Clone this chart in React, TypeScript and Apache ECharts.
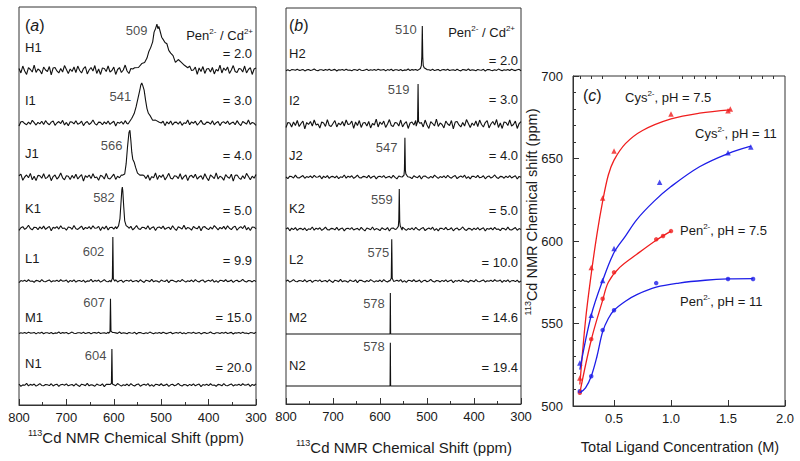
import React, { useEffect, useRef } from "react";
import * as echarts from "echarts";

// ---------------- DATA ----------------
// Panel (a): Pen2-/Cd2+ titration, spectra set 1
const ROWS_A = ["H1", "I1", "J1", "K1", "L1", "M1", "N1"];
const RATIO_A = ["2.0", "3.0", "4.0", "5.0", "9.9", "15.0", "20.0"];
const PEAK_PPM_A = [509, 541, 566, 582, 602, 607, 604];
const PEAK_HEIGHT_A = [1.02, 0.89, 1.04, 0.91, 0.98, 0.76, 0.8];
const NOISE_LEVEL_A = [0.11, 0.065, 0.09, 0.06, 0.035, 0.022, 0.035];
const SHAPE_A: number[][][] = [
  [[556, 0.03], [548, 0.08], [541, 0.14], [535, 0.2], [530, 0.28], [526, 0.36], [522, 0.48], [518, 0.62], [515, 0.76], [512, 0.9], [509, 1.0], [507, 0.9], [505, 0.95], [502, 0.84], [499, 0.76], [496, 0.68], [492, 0.6], [488, 0.52], [484, 0.44], [480, 0.38], [475, 0.3], [470, 0.23], [464, 0.17], [458, 0.12], [451, 0.07], [444, 0.03]],
  [[570, 0.02], [562, 0.08], [557, 0.2], [553, 0.38], [549, 0.6], [545, 0.82], [543, 0.95], [541, 1.0], [539, 0.94], [536, 0.78], [533, 0.58], [530, 0.4], [527, 0.26], [523, 0.16], [518, 0.09], [512, 0.05], [504, 0.02]],
  [[582, 0.02], [577, 0.1], [574, 0.3], [571, 0.65], [568, 0.95], [566, 1.0], [564, 0.82], [562, 0.52], [560, 0.34], [557, 0.28], [554, 0.2], [550, 0.12], [545, 0.06], [538, 0.02]],
  [[594, 0.02], [590, 0.08], [587, 0.25], [585, 0.6], [583, 0.94], [582, 1.0], [581, 0.9], [579, 0.5], [577, 0.2], [574, 0.07], [570, 0.02]],
  [[606, 0], [603, 0.06], [602, 1.0], [601, 0.06], [598, 0]],
  [[611, 0], [608, 0.04], [607, 1.0], [606, 0.04], [603, 0]],
  [[608, 0], [605, 0.05], [604, 1.0], [603, 0.05], [600, 0]],
];

// Panel (b): spectra set 2
const ROWS_B = ["H2", "I2", "J2", "K2", "L2", "M2", "N2"];
const RATIO_B = ["2.0", "3.0", "4.0", "5.0", "10.0", "14.6", "19.4"];
const PEAK_PPM_B = [510, 519, 547, 559, 575, 578, 578];
const PEAK_HEIGHT_B = [0.98, 0.89, 0.87, 0.89, 0.93, 0.91, 0.96];
const NOISE_LEVEL_B = [0.022, 0.11, 0.045, 0.045, 0.035, 0, 0];
const SHAPE_B: number[][][] = [
  [[520, 0], [514, 0.04], [512, 0.1], [511, 0.3], [510, 1.0], [509, 0.3], [508, 0.1], [506, 0.04], [500, 0]],
  [[523, 0], [520, 0.1], [519, 1.0], [518, 0.1], [515, 0]],
  [[553, 0], [549, 0.06], [548, 0.2], [547, 1.0], [546, 0.2], [545, 0.06], [541, 0]],
  [[565, 0], [561, 0.06], [560, 0.2], [559, 1.0], [558, 0.2], [557, 0.06], [553, 0]],
  [[579, 0], [576, 0.06], [575, 1.0], [574, 0.06], [571, 0]],
  [[581, 0], [578.6, 0], [578, 1.0], [577.4, 0], [575, 0]],
  [[581, 0], [578.6, 0], [578, 1.0], [577.4, 0], [575, 0]],
];

// baseline noise samples (hand-typed, shared by the spectra)
const NOISE = [
  0.3, -0.6, 0.8, -0.2, -0.9, 0.5, 0.1, -0.4, 1.0, -0.5,
  0.2, -0.1, -0.8, 0.6, 0.0, -0.3, 0.7, -1.0, 0.4, 0.5,
  -0.2, -0.6, 0.3, -0.4, 0.9, 0.1, -0.7, 0.2, -0.3, 0.6,
  -0.5, 0.8, -0.1, -0.6, 0.3, 0.7, -0.8, 0.0, 0.5, -0.2,
  0.9, -0.7, 0.2, -0.9, 0.4, 0.3, -0.3, 0.8, -0.4, -0.1,
  0.6, -0.9, 0.1, 0.5, -0.5, 0.0, 1.0, -0.2, -0.7, 0.3,
  0.2, -0.6, 0.4, -0.3, 0.7, -0.5, 0.1, 0.6, -1.0, 0.3,
  -0.1, 0.5, -0.4, 0.8, -0.2, 0.0, -0.8, 0.4, 0.2, -0.5,
  0.9, -0.3, -0.5, 0.1, 0.7, -0.6, 0.2, -0.2, 0.5, -0.4,
  0.8, -0.1, 0.0, 0.6, -0.9, 0.4, -0.3, 0.7, -0.7, 0.2,
  0.3, -0.4, 0.5, -0.8, 0.1, -0.2, 1.0, -0.6, 0.4, -0.1,
  0.6, -0.7, 0.0, 0.9, -0.3, -0.5, 0.3, 0.2, -0.4, 0.8,
  -0.6, 0.1, 0.5, -0.9, 0.2, 0.4, -0.2, 0.7, -0.5, 0.0,
];

// Panel (c): 113Cd shift vs total ligand concentration
const CYS75_X = [0.2, 0.3, 0.4, 0.5, 1.0, 1.5, 1.52];
const CYS75_Y = [517, 584, 626, 654.5, 677, 679, 680];
const CYS11_X = [0.2, 0.3, 0.4, 0.5, 0.9, 1.5, 1.7];
const CYS11_Y = [526, 555, 576, 595.5, 635.6, 653.5, 657];
const PEN75_X = [0.2, 0.3, 0.4, 0.5, 0.87, 0.93, 1.0];
const PEN75_Y = [508, 540.5, 565, 581, 601, 603, 606];
const PEN11_X = [0.2, 0.3, 0.4, 0.5, 0.87, 1.5, 1.72];
const PEN11_Y = [509, 518, 546, 558, 574.5, 577, 577];

// fitted curves
const CYS75_FIT_X = [0.2, 0.25, 0.3, 0.35, 0.4, 0.45, 0.5, 0.6, 0.75, 1.0, 1.25, 1.52];
const CYS75_FIT_Y = [513, 552, 580, 604, 624, 640, 649, 659, 667, 674, 677.5, 679.5];
const CYS11_FIT_X = [0.2, 0.3, 0.4, 0.5, 0.6, 0.7, 0.85, 1.0, 1.25, 1.5, 1.7];
const CYS11_FIT_Y = [522, 555, 576, 593, 603, 613, 624, 633, 645, 653, 657.5];
const PEN75_FIT_X = [0.2, 0.3, 0.4, 0.45, 0.55, 0.7, 0.87, 1.0];
const PEN75_FIT_Y = [508, 540, 564, 575, 584, 592, 600.5, 606];
const PEN11_FIT_X = [0.2, 0.25, 0.3, 0.35, 0.4, 0.45, 0.5, 0.6, 0.7, 0.87, 1.07, 1.3, 1.5, 1.72];
const PEN11_FIT_Y = [508, 511, 518, 530, 545, 553, 558, 563.5, 567.5, 572, 574.5, 576.2, 577, 577.2];

const X_TICKS_C = [0.5, 1.0, 1.5, 2.0];
const X_MINOR_TICKS_C = [0.2, 0.3, 0.4, 0.6, 0.7, 0.8, 0.9, 1.1, 1.2, 1.3, 1.4, 1.6, 1.7, 1.8, 1.9];

// ---------------- LAYOUT ----------------
const FONT = '"Liberation Sans", Arial, Helvetica, sans-serif';
const TXT = "#1a1a1a";
const AX = "#333";
const RED = "#f01e1e";
const BLUE = "#1e1ee8";
const PEAK_PX = 45;

const GRID_A = { left: 19, top: 7, width: 237, height: 398 };
const GRID_B = { left: 286, top: 8, width: 235, height: 396 };
const GRID_C = { left: 573, top: 76, width: 212, height: 330 };

const BASE_Y_A = [70, 123, 177, 228, 281, 333, 385];
const BASE_Y_B = [70, 124, 177, 229, 281, 334, 386];
const ROW_LABEL_Y_A = [47, 100, 153, 208, 258, 317, 363];
const RATIO_Y_A = [53, 100, 155, 210, 260, 317, 367];
const ROW_LABEL_Y_B = [53, 100, 155, 208, 259, 317, 365];
const RATIO_Y_B = [60, 99, 155, 210, 262, 317, 367];
const LABEL_GAP_A = [9, 10, 7, 7, 8, 5, 5];
const LABEL_DY_A = [6, 14, 15, 10, 15, 4, 6];
const LABEL_GAP_B = [5, 8, 7, 6, 2, 5, 5];
const LABEL_DY_B = [4, 6, 10, 11, 13, 10, 4];

function spectrum(shape: number[][], height: number, level: number, start: number, baseVal: number) {
  const ppms = shape.map((p) => p[0]);
  const lo = Math.min(...ppms);
  const hi = Math.max(...ppms);
  const pts: number[][] = [];
  for (let i = 0; i <= 125; i++) {
    const ppm = 800 - i * 4;
    if (ppm >= lo && ppm <= hi) continue;
    pts.push([ppm, baseVal + NOISE[(i + start) % NOISE.length] * level * PEAK_PX]);
  }
  shape.forEach(([p, r], j) => {
    const n = r < 0.9 ? NOISE[(j * 7 + start) % NOISE.length] * level * PEAK_PX * 0.6 : 0;
    pts.push([p, baseVal + r * height * PEAK_PX + n]);
  });
  pts.sort((a, b) => b[0] - a[0]);
  return pts;
}

function zip(xs: number[], ys: number[]) {
  return xs.map((x, i) => [x, ys[i]]);
}

const supRich = (fs: number) => ({
  b: { fontSize: fs, fontFamily: FONT, color: TXT, lineHeight: fs + 3 },
  s: { fontSize: Math.round(fs * 0.62), fontFamily: FONT, color: TXT, verticalAlign: "top", lineHeight: Math.round(fs * 0.62) },
});

function txt(x: number, y: number, text: string, opts: any = {}) {
  return {
    type: "text",
    x,
    y,
    silent: true,
    rotation: opts.rotation || 0,
    style: {
      text,
      fontSize: opts.fontSize || 13,
      fontFamily: FONT,
      fontStyle: opts.fontStyle || "normal",
      fill: TXT,
      align: opts.align || "left",
      verticalAlign: "middle",
      rich: opts.rich,
    },
  };
}

function buildOption() {
  const series: any[] = [];
  const graphic: any[] = [];

  const panels = [
    { grid: GRID_A, rows: ROWS_A, ratio: RATIO_A, ppm: PEAK_PPM_A, h: PEAK_HEIGHT_A, lv: NOISE_LEVEL_A, shape: SHAPE_A, base: BASE_Y_A, rowY: ROW_LABEL_Y_A, ratioY: RATIO_Y_A, gap: LABEL_GAP_A, dy: LABEL_DY_A, letter: "a", rowX: 25, ratioX: 252, headX: 253, headY: 35, titleX: 136, titleY: 437 },
    { grid: GRID_B, rows: ROWS_B, ratio: RATIO_B, ppm: PEAK_PPM_B, h: PEAK_HEIGHT_B, lv: NOISE_LEVEL_B, shape: SHAPE_B, base: BASE_Y_B, rowY: ROW_LABEL_Y_B, ratioY: RATIO_Y_B, gap: LABEL_GAP_B, dy: LABEL_DY_B, letter: "b", rowX: 289, ratioX: 518, headX: 515, headY: 32, titleX: 404, titleY: 447 },
  ];

  panels.forEach((P, pi) => {
    const labelData: any[] = [];
    P.rows.forEach((_, k) => {
      const baseVal = P.grid.height - (P.base[k] - P.grid.top);
      series.push({
        type: "line",
        xAxisIndex: pi,
        yAxisIndex: pi,
        data: spectrum(P.shape[k], P.h[k], P.lv[k], k * 17 + pi * 41, baseVal),
        showSymbol: false,
        silent: true,
        lineStyle: { color: "#111", width: 1.1 },
      });
      labelData.push({
        name: String(P.ppm[k]),
        value: [P.ppm[k], baseVal + P.h[k] * PEAK_PX],
        label: { offset: [-P.gap[k], P.dy[k]] },
      });
      graphic.push(txt(P.rowX, P.rowY[k], P.rows[k]));
      graphic.push(txt(P.ratioX, P.ratioY[k], "= " + P.ratio[k], { align: "right" }));
    });
    series.push({
      type: "scatter",
      xAxisIndex: pi,
      yAxisIndex: pi,
      data: labelData,
      symbolSize: 1,
      silent: true,
      itemStyle: { color: "transparent" },
      label: {
        show: true,
        position: "left",
        distance: 0,
        formatter: (p: any) => p.name,
        fontSize: 13,
        fontFamily: FONT,
        color: TXT,
      },
    });
    graphic.push(
      txt(P.rowX, 25, "{b|(}{i|" + P.letter + "}{b|)}", {
        rich: {
          b: { fontSize: 16, fontFamily: FONT, color: TXT },
          i: { fontSize: 16, fontFamily: FONT, color: TXT, fontStyle: "italic" },
        },
      })
    );
    graphic.push(txt(P.headX, P.headY, "{b|Pen}{s|2-}{b| / Cd}{s|2+}", { align: "right", rich: supRich(13) }));
    graphic.push(txt(P.titleX, P.titleY, "{s|113}{b|Cd NMR Chemical Shift (ppm)}", { align: "center", rich: supRich(15) }));
  });

  // Panel (c)
  const curve = (xs: number[], ys: number[], color: string) => ({
    type: "line",
    xAxisIndex: 2,
    yAxisIndex: 2,
    data: zip(xs, ys),
    smooth: 0.35,
    showSymbol: false,
    silent: true,
    lineStyle: { color, width: 1.3 },
  });
  const pts = (xs: number[], ys: number[], color: string, symbol: string, size: number) => ({
    type: "scatter",
    xAxisIndex: 2,
    yAxisIndex: 2,
    data: zip(xs, ys),
    symbol,
    symbolSize: size,
    silent: true,
    itemStyle: { color },
  });
  series.push(curve(CYS75_FIT_X, CYS75_FIT_Y, RED));
  series.push(curve(CYS11_FIT_X, CYS11_FIT_Y, BLUE));
  series.push(curve(PEN75_FIT_X, PEN75_FIT_Y, RED));
  series.push(curve(PEN11_FIT_X, PEN11_FIT_Y, BLUE));
  series.push(pts(CYS75_X, CYS75_Y, RED, "triangle", 5.5));
  series.push(pts(CYS11_X, CYS11_Y, BLUE, "triangle", 5.5));
  series.push(pts(PEN75_X, PEN75_Y, RED, "circle", 4.5));
  series.push(pts(PEN11_X, PEN11_Y, BLUE, "circle", 4.5));

  graphic.push(
    txt(583, 95, "{b|(}{i|c}{b|)}", {
      rich: {
        b: { fontSize: 16, fontFamily: FONT, color: TXT },
        i: { fontSize: 16, fontFamily: FONT, color: TXT, fontStyle: "italic" },
      },
    })
  );
  graphic.push(txt(625, 97, "{b|Cys}{s|2-}{b|, pH = 7.5}", { rich: supRich(13) }));
  graphic.push(txt(695, 133, "{b|Cys}{s|2-}{b|, pH = 11}", { rich: supRich(13) }));
  graphic.push(txt(680, 230, "{b|Pen}{s|2-}{b|, pH = 7.5}", { rich: supRich(13) }));
  graphic.push(txt(680, 301, "{b|Pen}{s|2-}{b|, pH = 11}", { rich: supRich(13) }));
  graphic.push(txt(680, 447, "Total Ligand Concentration (M)", { align: "center", fontSize: 14.5 }));
  graphic.push(
    txt(532, 212, "{s|113}{b|Cd NMR Chemical shift (ppm)}", {
      align: "center",
      rotation: Math.PI / 2,
      rich: supRich(14.5),
    })
  );

  const gridBox = (g: any) => ({ ...g, show: true, borderColor: AX, borderWidth: 1, backgroundColor: "transparent" });
  const specX = (gi: number) => ({
    type: "value",
    gridIndex: gi,
    min: 300,
    max: 800,
    interval: 100,
    inverse: true,
    axisLine: { show: true, lineStyle: { color: AX, width: 1 } },
    axisTick: { show: true, inside: true, length: 6, lineStyle: { color: AX } },
    minorTick: { show: true, splitNumber: 2, length: 3, lineStyle: { color: AX } },
    axisLabel: { fontSize: 13, fontFamily: FONT, color: TXT, margin: 6 },
    splitLine: { show: false },
  });

  return {
    animation: false,
    backgroundColor: "#fff",
    grid: [gridBox(GRID_A), gridBox(GRID_B), gridBox(GRID_C)],
    xAxis: [
      specX(0),
      specX(1),
      {
        type: "value",
        gridIndex: 2,
        min: 0.14,
        max: 2.0,
        axisLine: { show: true, lineStyle: { color: AX, width: 1 } },
        axisTick: { show: true, inside: true, length: 6, customValues: X_TICKS_C, lineStyle: { color: AX } },
        axisLabel: {
          fontSize: 13,
          fontFamily: FONT,
          color: TXT,
          margin: 6,
          customValues: X_TICKS_C,
          formatter: (v: number) => v.toFixed(1),
        },
        splitLine: { show: false },
      },
      {
        type: "value",
        gridIndex: 2,
        min: 0.14,
        max: 2.0,
        axisLine: { show: false },
        axisTick: { show: true, inside: true, length: 3, customValues: X_MINOR_TICKS_C, lineStyle: { color: AX } },
        axisLabel: { show: false },
        splitLine: { show: false },
      },
    ],
    yAxis: [
      { type: "value", gridIndex: 0, min: 0, max: GRID_A.height, show: false },
      { type: "value", gridIndex: 1, min: 0, max: GRID_B.height, show: false },
      {
        type: "value",
        gridIndex: 2,
        min: 500,
        max: 700,
        interval: 50,
        axisLine: { show: true, lineStyle: { color: AX, width: 1 } },
        axisTick: { show: true, inside: true, length: 6, lineStyle: { color: AX } },
        minorTick: { show: true, splitNumber: 5, length: 3, lineStyle: { color: AX } },
        axisLabel: { fontSize: 13, fontFamily: FONT, color: TXT, margin: 10 },
        splitLine: { show: false },
      },
    ],
    series,
    graphic,
  };
}

export default function App() {
  const ref = useRef<HTMLDivElement>(null);
  useEffect(() => {
    const chart = echarts.init(ref.current!, null, { renderer: "svg" });
    chart.setOption(buildOption() as any);
    return () => chart.dispose();
  }, []);
  return (
    <div
      ref={ref}
      style={{ position: "fixed", left: 0, top: 0, width: 800, height: 461, background: "#fff" }}
    />
  );
}
